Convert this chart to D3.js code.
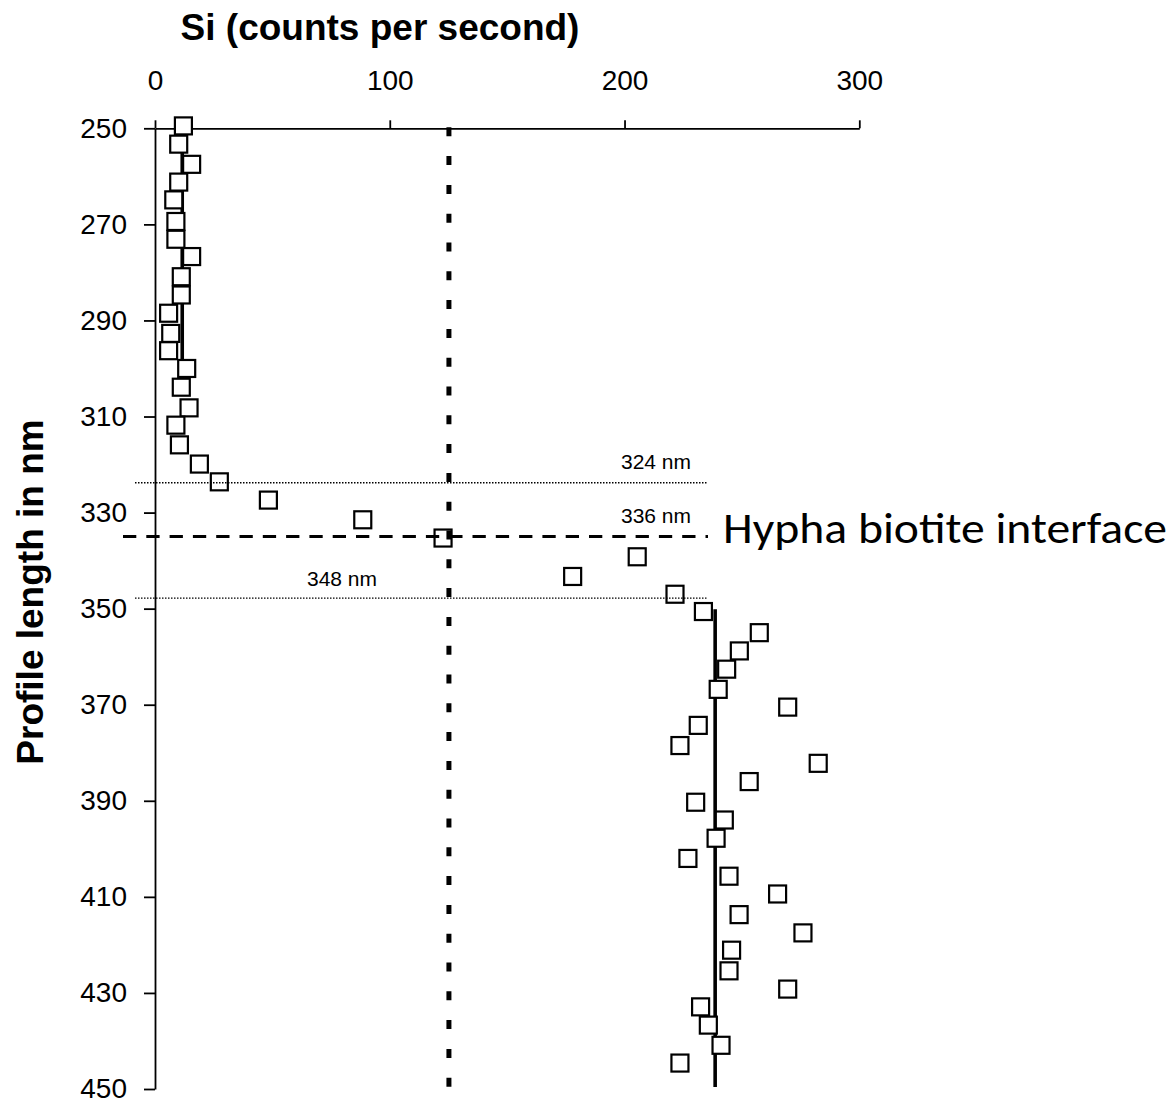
<!DOCTYPE html>
<html>
<head>
<meta charset="utf-8">
<script src="https://cdn.jsdelivr.net/npm/d3@7"></script>
<style>
  body { margin: 0; background: #fff; }
  svg { display: block; font-family: "Liberation Sans", Arial, sans-serif; }
  .axis path, .axis line { stroke: #000; stroke-width: 1.8; }
  .axis text { font-family: "Liberation Sans", Arial, sans-serif; font-size: 28px; fill: #000; }
</style>
</head>
<body>
<svg id="chart" width="1174" height="1103"></svg>
<script>
// Si line profile across the hypha / biotite boundary

var depthNm = [249.5, 253.3, 257.5, 261.2, 264.9, 269.4, 273.1, 276.7, 280.9, 284.7,
  288.5, 292.7, 296.3, 300.0, 303.9, 308.2, 311.8, 315.9, 319.9, 323.6,
  327.4, 331.5, 335.3, 339.2, 343.3, 347.0, 350.6, 355.0, 358.8, 362.6,
  366.8, 370.5, 374.3, 378.5, 382.2, 386.0, 390.3, 394.0, 397.8, 402.0,
  405.7, 409.4, 413.7, 417.5, 421.1, 425.4, 429.2, 432.9, 436.7, 440.9, 444.6];

var siCounts = [12.1, 10.1, 15.6, 10.1, 8.0, 8.9, 8.9, 15.6, 11.2, 11.2,
  5.8, 6.7, 5.8, 13.5, 11.2, 14.5, 8.9, 10.4, 18.9, 27.4,
  48.3, 88.5, 122.7, 205.4, 177.9, 221.5, 233.6, 257.4, 248.9, 243.5,
  239.9, 269.5, 231.4, 223.6, 282.5, 253.1, 230.3, 242.5, 239.0, 227.0,
  244.5, 265.2, 248.8, 276.0, 245.6, 244.5, 269.5, 232.4, 235.7, 241.1, 223.6];

var xTicks = [0, 100, 200, 300];
var yTicks = [250, 270, 290, 310, 330, 350, 370, 390, 410, 430, 450];

// mean levels on each side of the interface
var meanSi = [11.6, 238.6];
var meanFrom = [250, 350.1];
var meanTo = [298.3, 449.6];

// half of the Si step
var halfSi = 125.2;

// interface zone markers
var markerNm = [323.8, 335.0, 347.8];
var markerLabels = ['324 nm', '336 nm', '348 nm'];
var interfaceLabel = 'Hypha biotite interface';

var svg = d3.select('#chart');

var x = d3.scaleLinear().domain([0, 300]).range([155, 859.3]);
var y = d3.scaleLinear().domain([250, 450]).range([128.3, 1089]);

var points = depthNm.map(function(d, i) { return { nm: d, si: siCounts[i] }; });

// axes
svg.append('g')
  .attr('class', 'axis')
  .attr('transform', 'translate(0,' + y(250) + ')')
  .call(d3.axisTop(x).tickValues(xTicks).tickSize(8).tickSizeOuter(0).tickPadding(30));

svg.append('g')
  .attr('class', 'axis')
  .attr('transform', 'translate(' + x(0) + ',0)')
  .call(d3.axisLeft(y).tickValues(yTicks).tickSize(11).tickSizeOuter(0).tickPadding(17));

// mean lines
svg.selectAll('line.mean')
  .data(meanSi)
  .enter()
  .append('line')
  .attr('class', 'mean')
  .attr('x1', function(d) { return x(d); })
  .attr('x2', function(d) { return x(d); })
  .attr('y1', function(d, i) { return y(meanFrom[i]); })
  .attr('y2', function(d, i) { return y(meanTo[i]); })
  .attr('stroke', '#000')
  .attr('stroke-width', 3.6);

// measured points
var side = 17;
svg.selectAll('rect.point')
  .data(points)
  .enter()
  .append('rect')
  .attr('class', 'point')
  .attr('x', function(d) { return x(d.si) - side / 2; })
  .attr('y', function(d) { return y(d.nm) - side / 2; })
  .attr('width', side)
  .attr('height', side)
  .attr('fill', '#fff')
  .attr('stroke', '#000')
  .attr('stroke-width', 2.2);

// vertical dotted line at half step
svg.append('line')
  .attr('x1', x(halfSi))
  .attr('x2', x(halfSi))
  .attr('y1', y(250) - 1)
  .attr('y2', y(450))
  .attr('stroke', '#000')
  .attr('stroke-width', 5)
  .attr('stroke-dasharray', '9,19.8');

// interface markers
var lineRight = 708;
svg.selectAll('line.marker')
  .data(markerNm)
  .enter()
  .append('line')
  .attr('class', 'marker')
  .attr('x1', function(d, i) { return i === 1 ? 123 : 135; })
  .attr('x2', lineRight)
  .attr('y1', function(d) { return y(d); })
  .attr('y2', function(d) { return y(d); })
  .attr('stroke', '#000')
  .attr('stroke-width', function(d, i) { return i === 1 ? 3 : 1.4; })
  .attr('stroke-dasharray', function(d, i) { return i === 1 ? '13.3,10' : '1.5,1.5'; });

svg.selectAll('text.marker')
  .data(markerLabels)
  .enter()
  .append('text')
  .attr('class', 'marker')
  .attr('x', function(d, i) { return i === 2 ? 307 : 621; })
  .attr('y', function(d, i) { return y(markerNm[i]) - (i === 2 ? 11.7 : 14); })
  .attr('font-size', 21)
  .text(function(d) { return d; });

svg.append('text')
  .attr('x', 723)
  .attr('y', 543)
  .attr('font-family', 'Carlito, Calibri, Lato, sans-serif')
  .attr('font-size', 44)
  .attr('textLength', 444)
  .attr('lengthAdjust', 'spacingAndGlyphs')
  .text(interfaceLabel);

// axis titles
svg.append('text')
  .attr('x', 380)
  .attr('y', 40)
  .attr('text-anchor', 'middle')
  .attr('font-size', 37)
  .attr('font-weight', 'bold')
  .text('Si (counts per second)');

svg.append('text')
  .attr('transform', 'translate(43,592) rotate(-90)')
  .attr('text-anchor', 'middle')
  .attr('font-size', 37)
  .attr('font-weight', 'bold')
  .text('Profile length in nm');
</script>
</body>
</html>
